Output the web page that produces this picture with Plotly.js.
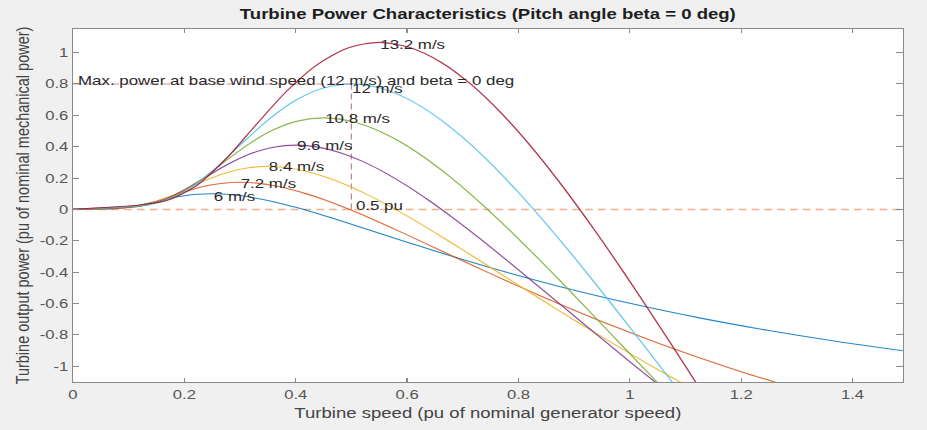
<!DOCTYPE html>
<html><head><meta charset="utf-8">
<script src="https://cdn.plot.ly/plotly-3.0.1.min.js"></script>
<style>
html,body{margin:0;padding:0;background:#f0f0f0;overflow:hidden;width:927px;height:430px;}
#chart{width:724px;height:430px;transform:scaleX(1.2804);transform-origin:0 0;}
</style></head><body><div id="chart"></div>
<script>
// Wind speeds (labels) and the turbine power curves
const speedLabels = ['6 m/s', '7.2 m/s', '8.4 m/s', '9.6 m/s', '10.8 m/s', '12 m/s', '13.2 m/s'];

const x6 = [0,0.025,0.05,0.075,0.1,0.125,0.15,0.175,0.2,0.225,0.25,0.275,0.3,0.325,0.35,0.375,0.4,0.425,0.45,0.475,0.5,0.525,0.55,0.6,0.65,0.7,0.75,0.8125,0.875,1.0,1.125,1.25,1.375,1.5];
const p6 = [0,0.0012,0.0023,0.005,0.0138,0.0304,0.0511,0.0712,0.087,0.0968,0.1,0.097,0.0883,0.0748,0.0573,0.0367,0.0135,-0.0116,-0.0381,-0.0657,-0.0939,-0.1225,-0.1513,-0.2086,-0.2649,-0.3194,-0.3718,-0.434,-0.4925,-0.5986,-0.6913,-0.7722,-0.8431,-0.9053];

const x7 = [0,0.03,0.06,0.09,0.12,0.15,0.18,0.21,0.24,0.27,0.3,0.33,0.36,0.39,0.42,0.45,0.48,0.51,0.54,0.57,0.6,0.66,0.72,0.78,0.84,0.9,0.975,1.05,1.2,1.35];
const p7 = [0,0.002,0.004,0.0086,0.0238,0.0525,0.0884,0.123,0.1503,0.1672,0.1728,0.1675,0.1525,0.1292,0.0991,0.0634,0.0233,-0.0201,-0.0659,-0.1135,-0.1623,-0.2614,-0.3605,-0.4577,-0.5519,-0.6424,-0.75,-0.8511,-1.0344,-1.1946];

const x8 = [0,0.035,0.07,0.105,0.14,0.175,0.21,0.245,0.28,0.315,0.35,0.385,0.42,0.455,0.49,0.525,0.56,0.595,0.63,0.665,0.7,0.77,0.84,0.91,0.98,1.05,1.1375];
const p8 = [0,0.0032,0.0064,0.0137,0.0379,0.0834,0.1403,0.1953,0.2387,0.2655,0.2744,0.266,0.2422,0.2052,0.1573,0.1007,0.037,-0.0319,-0.1047,-0.1803,-0.2577,-0.4151,-0.5724,-0.7268,-0.8763,-1.0201,-1.1909];

const x9 = [0,0.04,0.08,0.12,0.16,0.2,0.24,0.28,0.32,0.36,0.4,0.44,0.48,0.52,0.56,0.6,0.64,0.68,0.72,0.76,0.8,0.88,0.96,1.04,1.12];
const p9 = [0,0.0047,0.0095,0.0204,0.0565,0.1245,0.2094,0.2915,0.3563,0.3964,0.4096,0.3971,0.3616,0.3063,0.2348,0.1502,0.0553,-0.0476,-0.1562,-0.2691,-0.3846,-0.6196,-0.8545,-1.0849,-1.3081];

const x10 = [0,0.045,0.09,0.135,0.18,0.225,0.27,0.315,0.36,0.405,0.45,0.495,0.54,0.585,0.63,0.675,0.72,0.765,0.81,0.855,0.9,0.99,1.08];
const p10 = [0,0.0067,0.0136,0.029,0.0805,0.1772,0.2982,0.4151,0.5073,0.5644,0.5832,0.5654,0.5149,0.4362,0.3343,0.2139,0.0787,-0.0677,-0.2224,-0.3831,-0.5476,-0.8821,-1.2166];

const x12 = [0,0.05,0.1,0.15,0.2,0.25,0.3,0.35,0.4,0.45,0.5,0.55,0.6,0.65,0.7,0.75,0.8,0.85,0.9,0.95,1.0,1.05,1.1];
const p12 = [0,0.0092,0.0186,0.0398,0.1104,0.2431,0.409,0.5694,0.6959,0.7742,0.8,0.7756,0.7062,0.5983,0.4586,0.2934,0.1079,-0.0929,-0.3051,-0.5255,-0.7512,-0.98,-1.2101];

const x13 = [0,0.055,0.11,0.165,0.22,0.275,0.33,0.385,0.44,0.495,0.55,0.605,0.66,0.715,0.77,0.825,0.88,0.935,0.99,1.045,1.1,1.155];
const p13 = [0,0.0122,0.0248,0.053,0.1469,0.3236,0.5444,0.7578,0.9263,1.0304,1.0648,1.0323,0.94,0.7964,0.6104,0.3906,0.1436,-0.1236,-0.4061,-0.6995,-0.9998,-1.3044];

const xTickVals = [0, 0.2, 0.4, 0.6, 0.8, 1, 1.2, 1.4];
const xTickText = ['0', '0.2', '0.4', '0.6', '0.8', '1', '1.2', '1.4'];
const yTickVals = [-1, -0.8, -0.6, -0.4, -0.2, 0, 0.2, 0.4, 0.6, 0.8, 1];
const yTickText = ['-1', '-0.8', '-0.6', '-0.4', '-0.2', '0', '0.2', '0.4', '0.6', '0.8', '1'];

const baseSpeedIndex = 5; // 12 m/s is the base wind speed
const maxPowerText = 'Max. power at base wind speed (12 m/s) and beta = 0 deg';
const speedAtMaxText = '0.5 pu';

// ---- build the chart ----
const xs = [x6, x7, x8, x9, x10, x12, x13];
const ps = [p6, p7, p8, p9, p10, p12, p13];
const colors = ['#0072BD', '#D95319', '#EDB120', '#7E2F8E', '#77AC30', '#4DBEEE', '#A2142F'];
const labelShift = [-3, -1, 0, 0, -1, -5, -2];
const FONT = 'Liberation Sans, Arial, Helvetica, sans-serif';

const traces = [];
const annotations = [];
xs.forEach((xv, i) => {
  traces.push({
    x: xv, y: ps[i], type: 'scatter', mode: 'lines',
    line: {color: colors[i], width: 1.1, shape: 'spline', smoothing: 0.8},
    opacity: 0.85, hoverinfo: 'skip', showlegend: false
  });
  let k = 0;
  ps[i].forEach((v, j) => { if (v > ps[i][k]) k = j; });
  annotations.push({
    x: xv[k], y: ps[i][k], xref: 'x', yref: 'y', text: speedLabels[i],
    showarrow: false, xanchor: 'left', yanchor: 'middle', xshift: -1, yshift: labelShift[i],
    font: {family: FONT, size: 13.2, color: '#2a2a2a'}
  });
});

// base-speed maximum power point
const bx = xs[baseSpeedIndex], bp = ps[baseSpeedIndex];
let bk = 0; bp.forEach((v, j) => { if (v > bp[bk]) bk = j; });
const xOpt = bx[bk], pMax = bp[bk];

traces.unshift(
  {x: [0, 1.49], y: [0, 0], type: 'scatter', mode: 'lines',
   line: {color: '#f3b08a', width: 1.5, dash: '6px,4px'}, hoverinfo: 'skip', showlegend: false},
  {x: [0, xOpt], y: [pMax, pMax], type: 'scatter', mode: 'lines',
   line: {color: '#d98c98', width: 1, dash: '6px,4px'}, hoverinfo: 'skip', showlegend: false},
  {x: [xOpt, xOpt], y: [0, pMax], type: 'scatter', mode: 'lines',
   line: {color: '#b88a98', width: 1, dash: '6px,4px'}, hoverinfo: 'skip', showlegend: false}
);

annotations.push(
  {x: 0, y: pMax, xref: 'x', yref: 'y', text: maxPowerText, showarrow: false,
   xanchor: 'left', yanchor: 'middle', xshift: 2, yshift: 3,
   font: {family: FONT, size: 13.2, color: '#2a2a2a'}},
  {x: xOpt, y: 0, xref: 'x', yref: 'y', text: speedAtMaxText, showarrow: false,
   xanchor: 'left', yanchor: 'middle', xshift: 2, yshift: 4,
   font: {family: FONT, size: 13.2, color: '#2a2a2a'}}
);

const axisCommon = {
  showgrid: false, zeroline: false, showline: true, linecolor: '#8a8a8a', linewidth: 1,
  mirror: 'ticks', ticks: 'inside', tickcolor: '#8a8a8a',
  tickfont: {family: FONT, size: 13, color: '#555'}
};

const layout = {
  width: 724, height: 430,
  margin: {l: 57, r: 18.5, t: 29, b: 48, pad: 0},
  paper_bgcolor: '#f0f0f0', plot_bgcolor: '#ffffff',
  title: {text: 'Turbine Power Characteristics (Pitch angle beta = 0 deg)',
          font: {family: FONT, size: 14.5, color: '#1e1e1e', weight: 'bold'},
          x: 0.5, xref: 'paper', y: 0.967, yref: 'container', yanchor: 'middle'},
  xaxis: Object.assign({}, axisCommon, {
    range: [0, 1.49], tickvals: xTickVals, ticktext: xTickText, ticklen: 4,
    title: {text: 'Turbine speed (pu of nominal generator speed)', standoff: 7,
            font: {family: FONT, size: 14.5, color: '#444'}}
  }),
  yaxis: Object.assign({}, axisCommon, {
    range: [-1.1, 1.15], tickvals: yTickVals, ticktext: yTickText, ticklen: 5,
    title: {text: 'Turbine output power (pu of nominal mechanical power)', standoff: 4,
            font: {family: FONT, size: 14.5, color: '#444'}}
  }),
  annotations: annotations
};

Plotly.newPlot('chart', traces, layout, {staticPlot: true, displayModeBar: false});
</script></body></html>
